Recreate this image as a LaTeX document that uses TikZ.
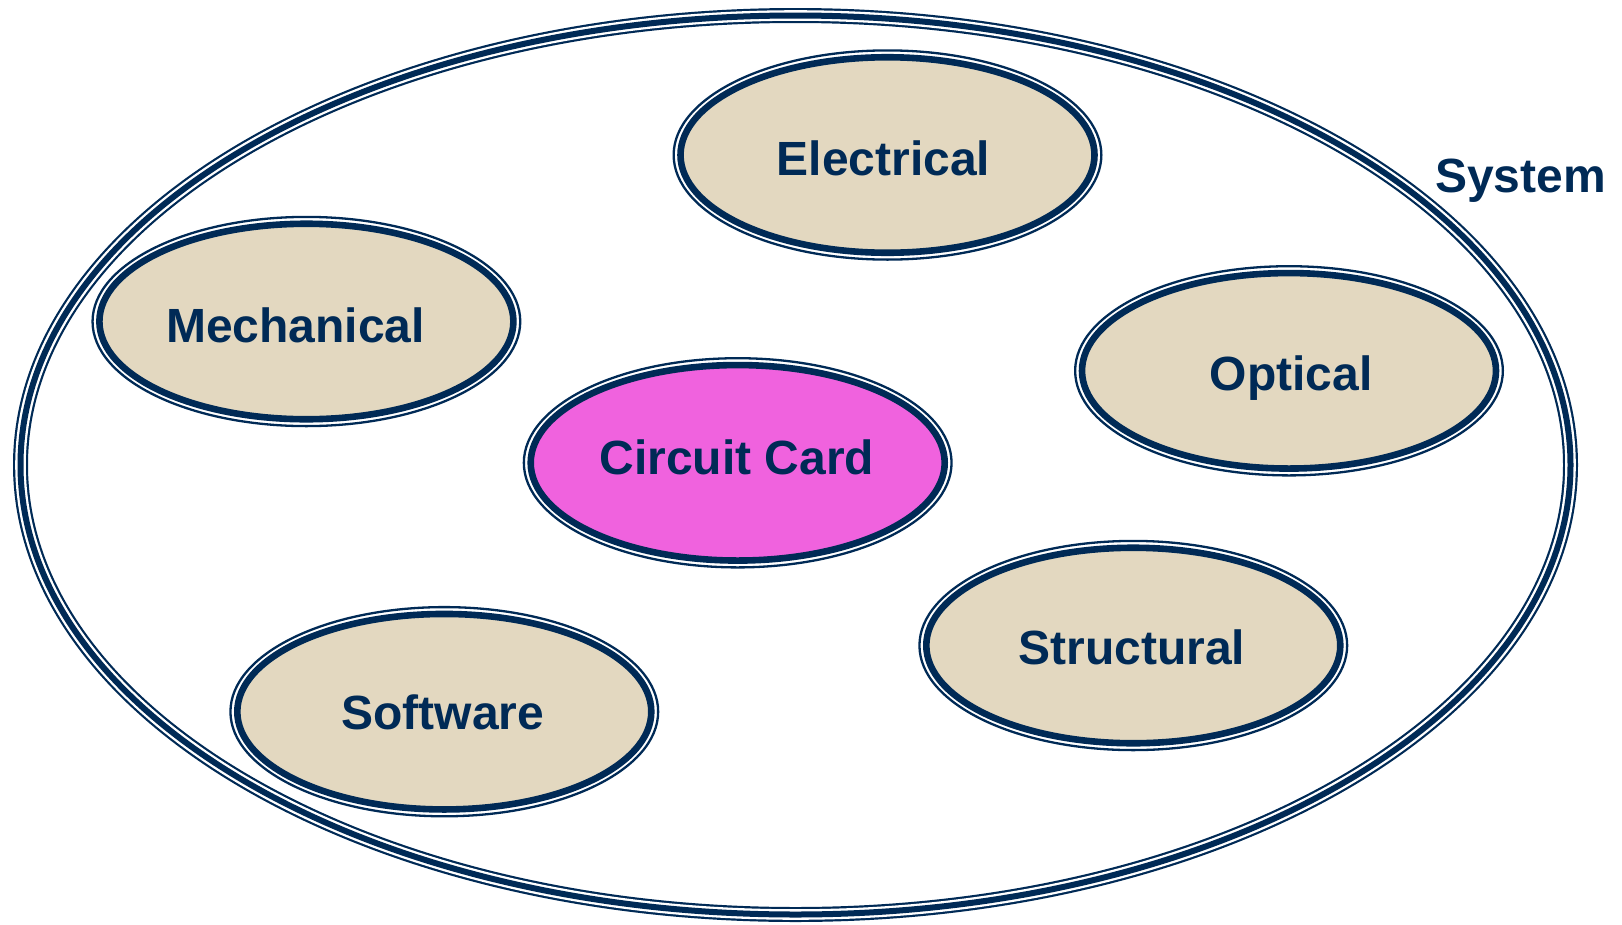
\documentclass[tikz,border=0pt]{standalone}
\usepackage{fontspec}
\setmainfont{Liberation Sans}
\usetikzlibrary{shapes.geometric}
\definecolor{navy}{RGB}{0,42,86}
\definecolor{beige}{RGB}{227,216,192}
\definecolor{magentafill}{RGB}{240,98,222}
\tikzset{
  thinring/.style={ellipse, draw=navy, line width=2.3pt, inner sep=0pt,
    minimum width=427.7pt, minimum height=209.2pt},
  thickring/.style={ellipse, draw=navy, line width=6.6pt, inner sep=0pt,
    fill=beige, minimum width=414pt, minimum height=195.5pt},
  lbl/.style={text=navy, font=\bfseries\fontsize{48}{57}\selectfont,
    inner sep=0pt, text height=34.5pt, text depth=0pt},
}
\begin{document}
\begin{tikzpicture}[x=1pt,y=-1pt]
\useasboundingbox (0,0) rectangle (1622,924);
% outer system ellipse (triple line)
\coordinate (sysc) at (795.5,465);
\draw[navy, line width=15pt] (sysc) ellipse [x radius=775, y radius=449.5];
\draw[white, line width=10.6pt] (sysc) ellipse [x radius=775, y radius=449.5];
\draw[navy, line width=6pt] (sysc) ellipse [x radius=775, y radius=449.5];
\node[lbl] (system) at (1520.5,175) {System};
% domain ellipses
\foreach \n/\x/\y/\c in {elec/887.5/155/beige, mech/306.4/321.5/beige,
    opt/1289/370.8/beige, struct/1133.3/645.5/beige, soft/444.3/711.7/beige,
    card/737.7/462.8/magentafill}{
  \node[thinring] (\n-ring) at (\x,\y) {};
  \node[thickring, fill=\c] (\n) at (\x,\y) {};
}
\node[lbl] (elec-lbl) at (883.5,158.3) {Electrical};
\node[lbl] (mech-lbl) at (295.5,325.7) {Mechanical};
\node[lbl] (opt-lbl) at (1291,373.3) {Optical};
\node[lbl] (struct-lbl) at (1131.7,647.5) {Structural};
\node[lbl] (soft-lbl) at (442.7,712.5) {Software};
\node[lbl] (card-lbl) at (736.7,457.5) {Circuit Card};
\end{tikzpicture}
\end{document}
